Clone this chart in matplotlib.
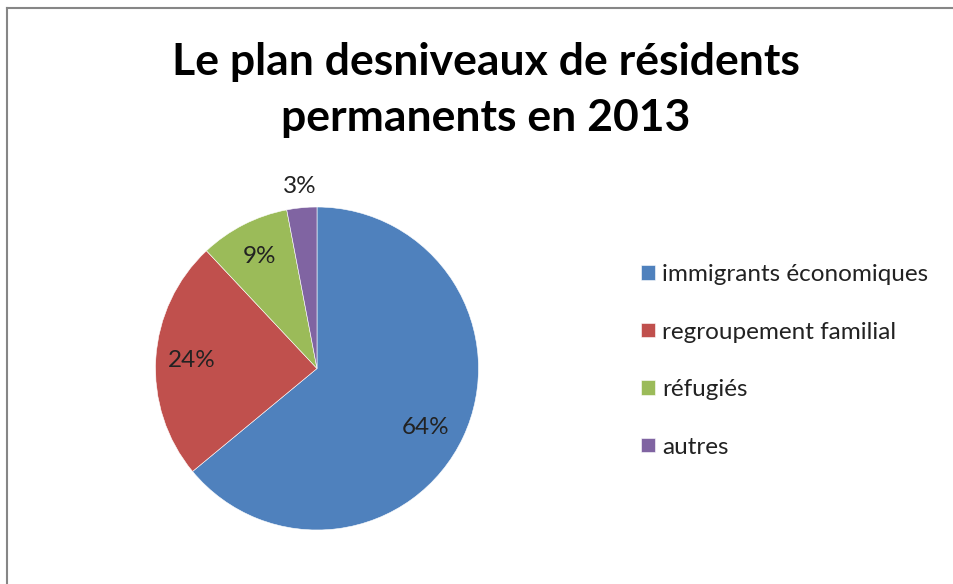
import matplotlib.pyplot as plt
import numpy as np

labels = ["immigrants économiques", "regroupement familial", "réfugiés", "autres"]
values = [64, 24, 9, 3]
colors = ["#4F81BD", "#C0504D", "#9BBB59", "#8064A2"]
title = "Le plan desniveaux de résidents\npermanents en 2013"

plt.rcParams["font.family"] = ["Lato", "DejaVu Sans"]

fig = plt.figure(figsize=(9.54, 5.84), dpi=100)
W, H = 954, 584

# pie centre (317, 368) radius 161 in pixels
cx, cy, r = 317, 368.5, 161.5
ax = fig.add_axes([(cx - r) / W, (H - cy - r) / H, 2 * r / W, 2 * r / H])
wedges, texts, autotexts = ax.pie(values, colors=colors, startangle=90, counterclock=False,
                                  autopct="%d%%", pctdistance=0.78,
                                  wedgeprops=dict(edgecolor="white", linewidth=0.4),
                                  textprops=dict(fontsize=17.5, color="#222222"))
ax.set_xlim(-1, 1)
ax.set_ylim(-1, 1)
ax.set_aspect("equal")

# the small slice gets its label outside, like Excel
x, y = autotexts[-1].get_position()
autotexts[-1].set_position((x / 0.78 * 1.13, y / 0.78 * 1.13))
x, y = autotexts[0].get_position()
autotexts[0].set_position((x * 0.95, y * 1.1))

fig.text(486 / W, 1 - 90 / H, title, ha="center", va="center", fontsize=32,
         fontweight="bold", linespacing=1.5)

leg = fig.legend(wedges, labels, loc="upper left", bbox_to_anchor=(629 / W, 1 - 252 / H),
                 frameon=False, fontsize=17.5, labelspacing=1.5, handlelength=0.55,
                 handleheight=0.55, handletextpad=0.3, borderpad=0)
for t in leg.get_texts():
    t.set_color("#222222")

# chart border (only left and top show in the crop)
fig.add_artist(plt.Line2D([7.5 / W, 7.5 / W], [0, 1 - 8 / H], color="#868686", lw=1.5))
fig.add_artist(plt.Line2D([7.5 / W, 1], [1 - 8 / H, 1 - 8 / H], color="#868686", lw=1.5))

fig.savefig("out.png", dpi=100)
